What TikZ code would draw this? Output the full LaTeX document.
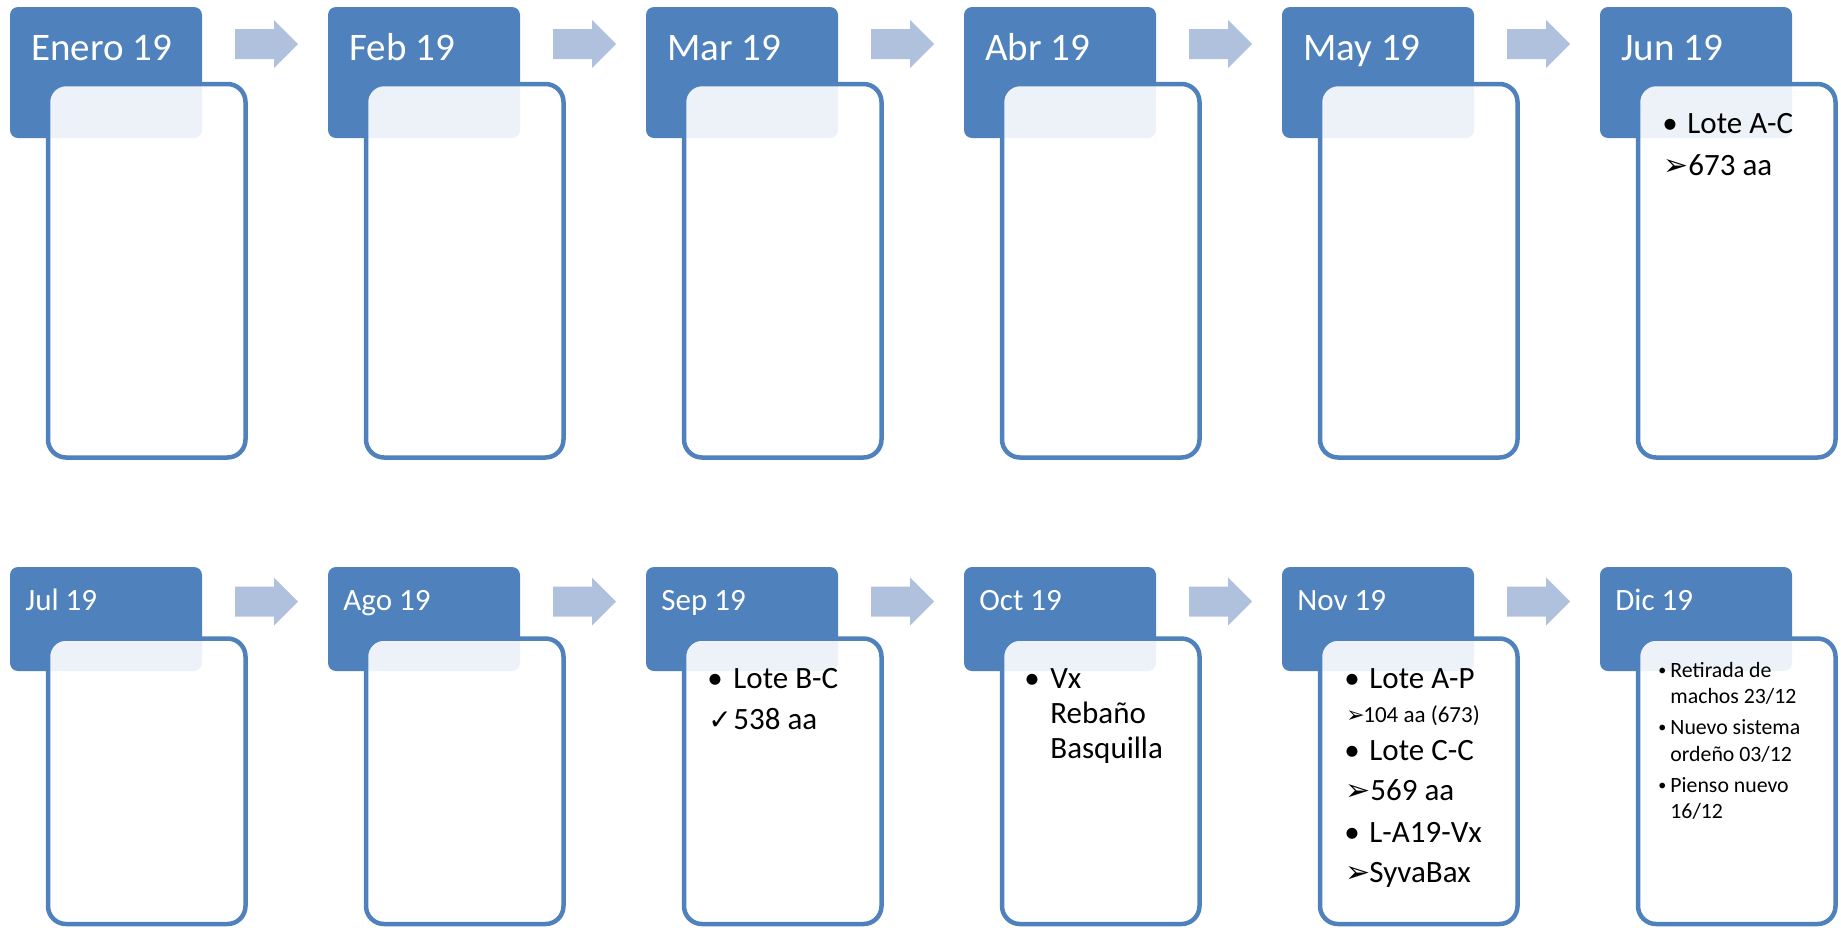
\documentclass[tikz,border=0pt]{standalone}
\usepackage{fontspec}
\setmainfont{Carlito}
\newfontfamily\symf{DejaVu Sans}
\definecolor{hdr}{RGB}{79,129,189}
\definecolor{arw}{RGB}{176,193,221}
\begin{document}
\begin{tikzpicture}[x=0.5pt,y=-0.5pt,
  hdrtop/.style={fill=hdr, rounded corners=4pt, inner sep=0pt, outer sep=0pt, minimum width=96pt, minimum height=65.5pt, anchor=north west},
  hdrbot/.style={hdrtop, minimum height=52pt},
  cboxtop/.style={draw=hdr, line width=2.25pt, fill=white, fill opacity=0.9, rounded corners=9pt, inner sep=0pt, outer sep=0pt, minimum width=98.75pt, minimum height=186.75pt, anchor=north west},
  cboxbot/.style={cboxtop, minimum height=142.75pt},
  httop/.style={text=white, font=\fontsize{19.5}{23}\selectfont, anchor=base west, inner sep=0pt},
  htbot/.style={text=white, font=\fontsize{15.5}{18}\selectfont, anchor=base west, inner sep=0pt},
  txt/.style={font=\fontsize{15.5}{18}\selectfont, anchor=base west, inner sep=0pt},
  txtsm/.style={font=\fontsize{11.5}{14}\selectfont, anchor=base west, inner sep=0pt},
  txtxs/.style={font=\fontsize{10.9}{13}\selectfont, anchor=base west, inner sep=0pt},
  dotxs/.style={font=\fontsize{8}{10}\selectfont, anchor=base west, inner sep=0pt},
  symb/.style={font=\symf\fontsize{15}{18}\selectfont, anchor=base west, inner sep=0pt},
  symbsm/.style={font=\symf\fontsize{11}{13}\selectfont, anchor=base west, inner sep=0pt},
  chk/.style={font=\symf\fontsize{14}{17}\selectfont, anchor=base west, inner sep=0pt},
  blockarrow/.pic={\fill[arw] (0,-15) -- (39,-15) -- (39,-24) -- (63,0) -- (39,24) -- (39,15) -- (0,15) -- cycle;}
]
\useasboundingbox (0,0) rectangle (1841,927);
% top row
\foreach \i/\m in {0/Enero 19,1/Feb 19,2/Mar 19,3/Abr 19,4/May 19,5/Jun 19}{
  \pgfmathsetmacro{\xo}{10+318*\i}
  \node[hdrtop] (ht\i) at (\xo,7) {};
  \node[cboxtop] (ct\i) at (\xo+38,84) {};
  \node[httop] (tt\i) at (\xo+21,60) {\m};
}
\foreach \i in {0,...,4}{
  \pgfmathsetmacro{\xo}{10+318*\i}
  \pic (at\i) at (\xo+225,44) {blockarrow};
}
% bottom row
\foreach \i/\m in {0/Jul 19,1/Ago 19,2/Sep 19,3/Oct 19,4/Nov 19,5/Dic 19}{
  \pgfmathsetmacro{\xo}{10+318*\i}
  \node[hdrbot] (hb\i) at (\xo,567) {};
  \node[cboxbot] (cb\i) at (\xo+38,638.5) {};
  \node[htbot] (tb\i) at (\xo+15,610) {\m};
}
\foreach \i in {0,...,4}{
  \pgfmathsetmacro{\xo}{10+318*\i}
  \pic (ab\i) at (\xo+225,601.5) {blockarrow};
}
% Jun
\node[txt] (junb1) at (1662,133) {•};
\node[txt] (junt1) at (1687,133) {Lote A-C};
\node[symb] (juna2) at (1663,175) {➢};
\node[txt] (junt2) at (1688,175) {673 aa};
% Sep
\node[txt] (sepb1) at (707,688) {•};
\node[txt] (sept1) at (733,688) {Lote B-C};
\node[chk] (sepc2) at (708,729) {✓};
\node[txt] (sept2) at (733,729) {538 aa};
% Oct
\node[txt] (octb1) at (1024,688) {•};
\node[txt] (octt1) at (1050,688) {Vx};
\node[txt] (octt2) at (1050,723) {Rebaño};
\node[txt] (octt3) at (1050,758) {Basquilla};
% Nov
\node[txt] (novb1) at (1344,688) {•};
\node[txt] (novt1) at (1369,688) {Lote A-P};
\node[symbsm] (nova2) at (1346,722) {➢};
\node[txtsm] (novt2) at (1363,722) {104 aa (673)};
\node[txt] (novb3) at (1344,760) {•};
\node[txt] (novt3) at (1369,760) {Lote C-C};
\node[symb] (nova4) at (1345,800) {➢};
\node[txt] (novt4) at (1370,800) {569 aa};
\node[txt] (novb5) at (1344,842) {•};
\node[txt] (novt5) at (1369,842) {L-A19-Vx};
\node[symb] (nova6) at (1345,882) {➢};
\node[txt] (novt6) at (1369,882) {SyvaBax};
% Dic
\node[dotxs] (dicb1) at (1658,675) {•};
\node[txtxs] (dict1) at (1670,677) {Retirada de};
\node[txtxs] (dict2) at (1670,703) {machos 23/12};
\node[dotxs] (dicb3) at (1658,732) {•};
\node[txtxs] (dict3) at (1670,734) {Nuevo sistema};
\node[txtxs] (dict4) at (1670,761) {ordeño 03/12};
\node[dotxs] (dicb5) at (1658,790) {•};
\node[txtxs] (dict5) at (1670,792) {Pienso nuevo};
\node[txtxs] (dict6) at (1670,818) {16/12};
\end{tikzpicture}
\end{document}
